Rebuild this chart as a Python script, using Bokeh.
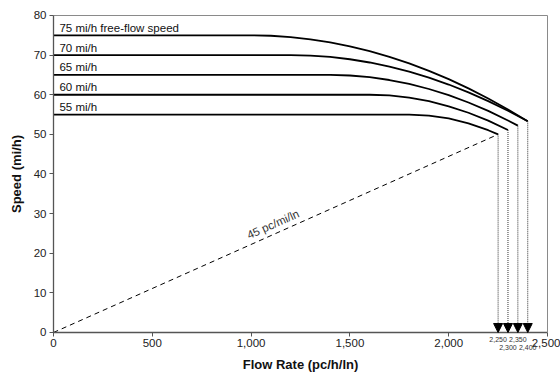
from bokeh.plotting import figure
from bokeh.models import (Range1d, FixedTicker, NumeralTickFormatter, Arrow, NormalHead,
                          ColumnDataSource, Label, LabelSet, LinearAxis)
from bokeh.core.properties import value
from bokeh.embed import file_html
from bokeh.resources import INLINE

# ---- data ----
flow_75 = [0, 1000, 1100, 1200, 1300, 1400, 1500, 1600, 1700, 1800, 1900, 2000, 2100, 2200, 2300, 2400]
speed_75 = [75, 75, 74.89, 74.56, 74.00, 73.23, 72.23, 71.01, 69.58, 67.92, 66.03, 63.93, 61.61, 59.06, 56.29, 53.3]

flow_70 = [0, 1200, 1300, 1400, 1500, 1600, 1700, 1800, 1900, 2000, 2100, 2200, 2300, 2400]
speed_70 = [70, 70, 69.88, 69.54, 68.96, 68.14, 67.10, 65.82, 64.32, 62.58, 60.60, 58.40, 55.96, 53.3]

flow_65 = [0, 1400, 1500, 1600, 1700, 1800, 1900, 2000, 2100, 2200, 2300, 2350]
speed_65 = [65, 65, 64.86, 64.43, 63.72, 62.73, 61.45, 59.90, 58.05, 55.92, 53.51, 52.2]

flow_60 = [0, 1600, 1700, 1800, 1900, 2000, 2100, 2200, 2300]
speed_60 = [60, 60, 59.82, 59.27, 58.37, 57.09, 55.46, 53.46, 51.1]

flow_55 = [0, 1800, 1900, 2000, 2100, 2200, 2250]
speed_55 = [55, 55, 54.75, 54.01, 52.78, 51.05, 50.0]

ffs = [75, 70, 65, 60, 55]
curve_labels = ["75 mi/h free-flow speed", "70 mi/h", "65 mi/h", "60 mi/h", "55 mi/h"]

cap_flow = [2250, 2300, 2350, 2400]
cap_speed = [50.0, 51.1, 52.2, 53.3]
cap_labels = ["2,250", "2,300", "2,350", "2,400"]

dens_flow = [0, 2250]
dens_speed = [0, 50.0]
dens_label = "45 pc/mi/ln"

x_ticks = [0, 500, 1000, 1500, 2000, 2500]
y_ticks = [0, 10, 20, 30, 40, 50, 60, 70, 80]

FONT = "Liberation Sans"
X_MAX, Y_MAX = 2500, 80

# The frame covers the whole canvas; axes are pinned at 0 so that the
# small capacity labels below the axis are drawn inside the frame.
p = figure(width=560, height=373, output_backend="svg", toolbar_location=None,
           x_range=Range1d(-268.2, 2565.8), y_range=Range1d(-10.347, 83.785),
           min_border=0, min_border_left=0, min_border_right=0,
           min_border_top=0, min_border_bottom=0)
p.grid.visible = False
p.outline_line_color = None
p.background_fill_color = "white"
p.border_fill_color = "white"

for ax in (p.xaxis[0], p.yaxis[0]):
    ax.axis_line_color = "#555555"
    ax.axis_line_width = 1.3
    ax.major_tick_line_color = "#555555"
    ax.major_tick_out = 4
    ax.major_tick_in = 0
    ax.minor_tick_line_color = None
    ax.major_label_text_font = FONT
    ax.major_label_text_font_size = "11.5px"
    ax.major_label_text_color = "#222222"
    ax.axis_label_text_font = FONT
    ax.axis_label_text_font_size = "13px"
    ax.axis_label_text_font_style = "bold"
    ax.axis_label_text_color = "#111111"

p.xaxis.ticker = FixedTicker(ticks=x_ticks)
p.xaxis.formatter = NumeralTickFormatter(format="0,0")
p.xaxis.axis_label = "Flow Rate (pc/h/ln)"
p.xaxis.major_label_standoff = 3
p.xaxis.axis_label_standoff = 6
p.xaxis.fixed_location = 0
p.xaxis.bounds = (0, X_MAX)

p.yaxis.ticker = FixedTicker(ticks=y_ticks)
p.yaxis.axis_label = "Speed (mi/h)"
p.yaxis.major_label_standoff = 3
p.yaxis.axis_label_standoff = 7
p.yaxis.fixed_location = 0
p.yaxis.bounds = (0, Y_MAX)

# thin grey border on top and right (plain axes without ticks)
right_b = LinearAxis(ticker=FixedTicker(ticks=[]), axis_line_color="#8a8a8a", axis_line_width=1,
                     major_tick_line_color=None, minor_tick_line_color=None,
                     major_label_text_font_size="0px", fixed_location=X_MAX, bounds=(0, Y_MAX))
p.add_layout(right_b, "right")
top_b = LinearAxis(ticker=FixedTicker(ticks=[]), axis_line_color="#8a8a8a", axis_line_width=1,
                   major_tick_line_color=None, minor_tick_line_color=None,
                   major_label_text_font_size="0px", fixed_location=Y_MAX, bounds=(0, X_MAX))
p.add_layout(top_b, "above")

# density line
p.line(dens_flow, dens_speed, line_color="black", line_width=1, line_dash="5 4")

# speed-flow curves
for fx, fy in [(flow_75, speed_75), (flow_70, speed_70), (flow_65, speed_65),
               (flow_60, speed_60), (flow_55, speed_55)]:
    p.line(fx, fy, line_color="black", line_width=1.8)

# curve labels
for s, t in zip(ffs, curve_labels):
    p.add_layout(Label(x=30, y=s + 1.9, text=t, text_font=FONT, text_font_size="11.5px",
                       text_color="#111111", text_baseline="middle", text_align="left"))

# density label
p.add_layout(Label(x=1111, y=27.3, text=dens_label, angle=0.42, text_font=FONT,
                   text_font_size="11.5px", text_color="#333333",
                   text_align="center", text_baseline="middle"))

# capacity arrows
asrc = ColumnDataSource(dict(x=cap_flow, y0=cap_speed, y1=[0] * len(cap_flow)))
p.add_layout(Arrow(end=NormalHead(size=9, fill_color="black", line_color="black", line_width=1),
                   x_start="x", y_start="y0", x_end="x", y_end="y1", source=asrc,
                   line_color="#333333", line_width=1, line_dash="1 1"))

# capacity labels (two staggered rows, below the axis)
ly = [-1.8 if i % 2 == 0 else -3.8 for i in range(len(cap_flow))]
lsrc = ColumnDataSource(dict(x=cap_flow, y=ly, t=cap_labels))
p.add_layout(LabelSet(x="x", y="y", text="t", source=lsrc, text_font=value(FONT),
                      text_font_size="7px", text_color="#333333",
                      text_align="center", text_baseline="middle"))

open("out.html", "w").write(file_html(p, INLINE))
